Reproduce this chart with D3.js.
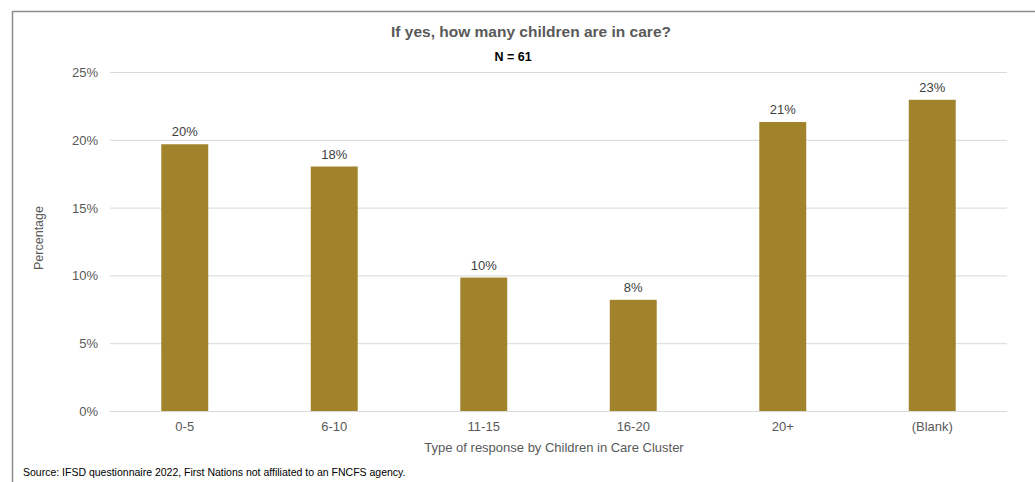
<!DOCTYPE html>
<html><head><meta charset="utf-8">
<script src="https://cdn.jsdelivr.net/npm/d3@7"></script>
<style>
body{margin:0;background:#fff;}
svg text{font-family:"Liberation Sans",Arial,sans-serif;}
</style></head>
<body><svg id="c" width="1035" height="482" font-family="Liberation Sans, Arial, sans-serif"></svg>
<script>
const categories = ["0-5","6-10","11-15","16-20","20+","(Blank)"];
const values = [19.67, 18.03, 9.84, 8.20, 21.31, 22.95];
const labels = ["20%","18%","10%","8%","21%","23%"];
const yTicks = [0,5,10,15,20,25];

const svg = d3.select("#c");
svg.append("line").attr("x1",12.5).attr("x2",12.5).attr("y1",11.5).attr("y2",482).attr("stroke","#8c8c8c").attr("stroke-width",1.5);
svg.append("line").attr("x1",12).attr("x2",1035).attr("y1",11.5).attr("y2",11.5).attr("stroke","#8c8c8c").attr("stroke-width",1.5);

const x = d3.scaleBand().domain(categories).range([110,1007]).paddingInner(0.686).paddingOuter(0.343);
const y = d3.scaleLinear().domain([0,25]).range([411,72]);

svg.append("g").selectAll("line").data(yTicks).join("line")
  .attr("x1",110).attr("x2",1007).attr("y1",d=>y(d)+0.5).attr("y2",d=>y(d)+0.5)
  .attr("stroke","#d9d9d9").attr("stroke-width",1);

const yAxis = d3.axisLeft(y).tickValues(yTicks).tickFormat(d=>d+"%").tickSize(0).tickPadding(0);
const yg = svg.append("g").attr("transform","translate(98,0)").call(yAxis);
yg.select(".domain").remove();
yg.selectAll("text").attr("fill","#595959").attr("font-size","13px").attr("dy","0.35em");

svg.append("g").selectAll("rect").data(values).join("rect")
  .attr("x",(d,i)=>x(categories[i])).attr("width",x.bandwidth())
  .attr("y",d=>y(d)).attr("height",d=>y(0)-y(d))
  .attr("fill","#a0832a");

svg.append("g").selectAll("text").data(values).join("text")
  .attr("x",(d,i)=>x(categories[i])+x.bandwidth()/2).attr("y",d=>y(d)-8)
  .attr("text-anchor","middle").attr("fill","#404040").attr("font-size","13px")
  .text((d,i)=>labels[i]);

const xAxis = d3.axisBottom(x).tickSize(0).tickPadding(0);
const xg = svg.append("g").attr("transform","translate(0,421)").call(xAxis);
xg.select(".domain").remove();
xg.selectAll("text").attr("fill","#595959").attr("font-size","13px").attr("dy","0.75em");

svg.append("text").attr("x",531).attr("y",37).attr("text-anchor","middle")
  .attr("font-weight","bold").attr("font-size","15.5px").attr("fill","#595959")
  .text("If yes, how many children are in care?");
svg.append("text").attr("x",513).attr("y",61).attr("text-anchor","middle")
  .attr("font-weight","bold").attr("font-size","12.5px").attr("fill","#000")
  .text("N = 61");
svg.append("text").attr("x",554).attr("y",452).attr("text-anchor","middle")
  .attr("font-size","13px").attr("fill","#595959")
  .text("Type of response by Children in Care Cluster");
svg.append("text").attr("transform","translate(43,238) rotate(-90)").attr("text-anchor","middle")
  .attr("font-size","12.5px").attr("fill","#595959").text("Percentage");
svg.append("text").attr("x",23).attr("y",476)
  .attr("font-size","10.5px").attr("fill","#000")
  .text("Source: IFSD questionnaire 2022, First Nations not affiliated to an FNCFS agency.");
</script></body></html>
